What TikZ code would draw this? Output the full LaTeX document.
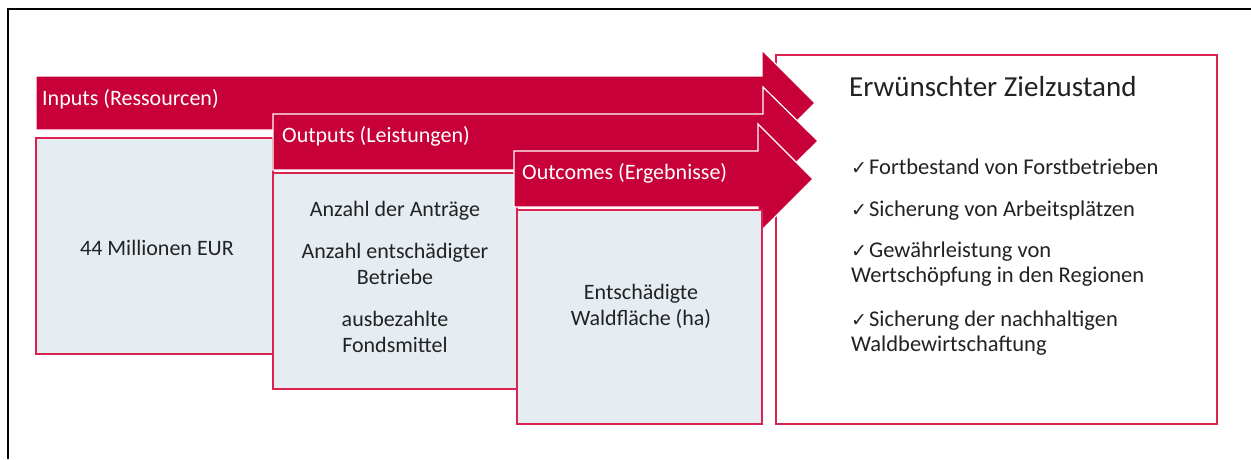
\documentclass[tikz,border=0pt]{standalone}
\usepackage{fontspec}
\setmainfont{Carlito}
\newfontfamily\symfont{DejaVu Sans}
\definecolor{crim}{HTML}{C8003A}
\definecolor{bord}{HTML}{D92452}
\definecolor{boxfill}{HTML}{E5ECF2}
\definecolor{txt}{HTML}{222222}
\newcommand{\chk}{{\symfont\fontsize{19}{19}\selectfont ✓}\hspace{2pt}}
\begin{document}
\begin{tikzpicture}[x=1pt,y=-1pt,
  arrowshape/.style={fill=crim, draw=white, line width=1.2pt, line join=miter},
  databox/.style={fill=boxfill, draw=bord, line width=1.3pt},
  goalbox/.style={fill=white, draw=bord, line width=1.3pt},
  lbl/.style={anchor=base west, inner sep=0pt, text=white, font=\fontsize{22}{25}\selectfont},
  body/.style={anchor=base, inner sep=0pt, text=txt, font=\fontsize{22}{26}\selectfont},
  item/.style={anchor=base west, inner sep=0pt, text=txt, font=\fontsize{22.5}{25.5}\selectfont},
  head/.style={anchor=base west, inner sep=0pt, text=txt, font=\fontsize{29}{32}\selectfont}]
\useasboundingbox (0,0) rectangle (1251,459);
% outer frame (cropped)
\draw[line width=2pt, black] (8,459) -- (8,9) -- (1251,9);
% goal box
\draw[goalbox] (776,55) rectangle (1217,424);
% Inputs
\draw[arrowshape] (36,76) -- (762,76) -- (762,50) -- (815,103) -- (762,156) -- (762,130) -- (36,130) -- cycle;
\draw[databox] (36,138) rectangle (273,354);
% Outputs
\draw[arrowshape] (273,114) -- (763,114) -- (763,87) -- (818,141) -- (763,195) -- (763,170) -- (273,170) -- cycle;
\draw[databox] (273,173) rectangle (517,389);
% Outcomes
\draw[arrowshape] (514,151) -- (758,151) -- (758,124) -- (813,179) -- (758,234) -- (758,207) -- (514,207) -- cycle;
\draw[databox] (517,210) rectangle (762,424);
% labels
\node[lbl] (linp) at (42,105) {Inputs (Ressourcen)};
\node[lbl] (lout) at (282,142) {Outputs (Leistungen)};
\node[lbl] (lerg) at (522,179) {Outcomes (Ergebnisse)};
% box texts
\node[body] (t1) at (157,255) {44 Millionen EUR};
\node[body] (t2) at (395,216) {Anzahl der Anträge};
\node[body] (t3) at (395,258) {\begin{tabular}[t]{@{}c@{}}Anzahl entschädigter\\Betriebe\end{tabular}};
\node[body] (t4) at (395,326) {\begin{tabular}[t]{@{}c@{}}ausbezahlte\\Fondsmittel\end{tabular}};
\node[body] (t5) at (641,299) {\begin{tabular}[t]{@{}c@{}}Entschädigte\\Waldfläche (ha)\end{tabular}};
% goal texts
\node[head] (h) at (849,96) {Erwünschter Zielzustand};
\node[item] (g1) at (851,174) {\chk Fortbestand von Forstbetrieben};
\node[item] (g2) at (851,216) {\chk Sicherung von Arbeitsplätzen};
\node[item] (g3) at (851,257) {\begin{tabular}[t]{@{}l@{}}\chk Gewährleistung von\\Wertschöpfung in den Regionen\end{tabular}};
\node[item] (g4) at (851,326) {\begin{tabular}[t]{@{}l@{}}\chk Sicherung der nachhaltigen\\Waldbewirtschaftung\end{tabular}};
\end{tikzpicture}
\end{document}
